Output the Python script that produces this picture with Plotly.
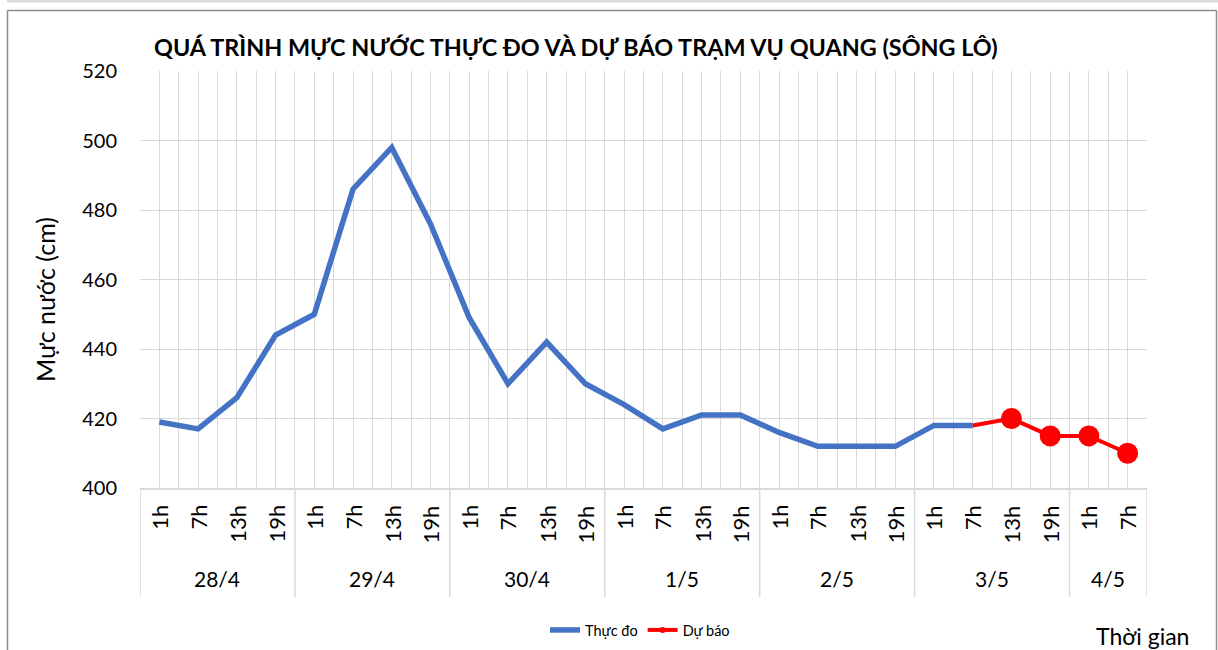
import plotly.graph_objects as go

# ---- data ----
days = ["28/4", "29/4", "30/4", "1/5", "2/5", "3/5", "4/5"]
hours_per_day = [4, 4, 4, 4, 4, 4, 2]
hours = ["1h", "7h", "13h", "19h"]
observed = [419, 417, 426, 444, 450, 486, 498, 476, 449, 430, 442, 430,
            424, 417, 421, 421, 416, 412, 412, 412, 418, 418]
forecast = [418, 420, 415, 415, 410]
forecast_start = 21  # category index of 3/5 7h

title_text = "QUÁ TRÌNH MỰC NƯỚC THỰC ĐO VÀ DỰ BÁO TRẠM VỤ QUANG (SÔNG LÔ)"
ytitle = "Mực nước (cm)"
xtitle = "Thời gian"
y_ticks = [400, 420, 440, 460, 480, 500, 520]

# ---- build categories ----
hour_labels = []
day_groups = []
idx = 0
for d, n in zip(days, hours_per_day):
    day_groups.append((d, idx, idx + n - 1))
    hour_labels.extend(hours[:n])
    idx += n
ncat = len(hour_labels)

TITLEF = "Liberation Sans Narrow, Arial Narrow, Lato, Liberation Sans, Arial, sans-serif"
BODY = "Lato, Liberation Sans, Arial, sans-serif"
GRID = "#d9d9d9"

W, H = 1218, 650
L, R, T, B = 140, 71, 71, 162
PW, PH = W - L - R, H - T - B

def px_x(px):
    return (px - L) / PW

def px_y(py):
    return (H - B - py) / PH

fig = go.Figure()

fig.add_trace(go.Scatter(
    x=list(range(len(observed))), y=observed, mode="lines", name="Thực đo",
    line=dict(color="#4472C4", width=5.5), showlegend=True))

fx = list(range(forecast_start, forecast_start + len(forecast)))
msizes = [0] + [21] * (len(forecast) - 1)
fig.add_trace(go.Scatter(
    x=fx, y=forecast, mode="lines+markers", name="Dự báo",
    line=dict(color="#FF0000", width=4),
    marker=dict(color="#FF0000", size=msizes, opacity=1, line=dict(width=0)),
    showlegend=False))
fig.add_trace(go.Scatter(
    x=[None], y=[None], mode="lines+markers", name="Dự báo",
    line=dict(color="#FF0000", width=4),
    marker=dict(color="#FF0000", size=6, opacity=1, line=dict(width=0)), showlegend=True))

annotations = []
for i, lab in enumerate(hour_labels):
    annotations.append(dict(
        x=i, xref="x", y=0, yref="paper", text=lab, textangle=-90,
        showarrow=False, xanchor="center", yanchor="top", yshift=-15,
        font=dict(family=BODY, size=22, color="#000")))
for d, a, b in day_groups:
    annotations.append(dict(
        x=(a + b) / 2, xref="x", y=px_y(578), yref="paper", text=d,
        showarrow=False, xanchor="center", yanchor="middle",
        font=dict(family=BODY, size=21, color="#000")))
annotations.append(dict(
    x=px_x(45), xref="paper", y=px_y(300), yref="paper", text=ytitle,
    textangle=-90, showarrow=False, xanchor="center", yanchor="middle",
    font=dict(family=BODY, size=25, color="#000")))
annotations.append(dict(
    x=px_x(1094), xref="paper", y=px_y(636), yref="paper", text=xtitle,
    showarrow=False, xanchor="left", yanchor="middle",
    font=dict(family=BODY, size=23, color="#000")))
annotations.append(dict(
    x=px_x(152), xref="paper", y=px_y(47), yref="paper", text="<b>" + title_text + "</b>",
    showarrow=False, xanchor="left", yanchor="middle",
    font=dict(family=TITLEF, size=23.4, color="#000")))

shapes = []
bounds = [a - 0.5 for _, a, _ in day_groups] + [day_groups[-1][2] + 0.5]
for bx in bounds:
    shapes.append(dict(type="line", xref="x", yref="paper", x0=bx, x1=bx,
                       y0=0, y1=px_y(597), line=dict(color=GRID, width=1.5)))
# outer frame
fl, fr, ft = px_x(7.5), px_x(1216.5), px_y(10.5)
shapes.append(dict(type="line", xref="paper", yref="paper", x0=fl, x1=fr, y0=ft, y1=ft,
                   line=dict(color="#8c8c8c", width=1.5)))
shapes.append(dict(type="line", xref="paper", yref="paper", x0=fl, x1=fl, y0=ft, y1=px_y(652),
                   line=dict(color="#8c8c8c", width=1.5)))
shapes.append(dict(type="line", xref="paper", yref="paper", x0=fr, x1=fr, y0=ft, y1=px_y(652),
                   line=dict(color="#8c8c8c", width=1.5)))
shapes.append(dict(type="rect", xref="paper", yref="paper", x0=px_x(7), x1=px_x(1218),
                   y0=px_y(2.5), y1=px_y(-1), line=dict(width=0), fillcolor=GRID))

fig.update_layout(
    width=W, height=H, autosize=False,
    margin=dict(l=L, r=R, t=T, b=B, autoexpand=False),
    paper_bgcolor="white", plot_bgcolor="white",
    showlegend=True,
    legend=dict(orientation="h", x=px_x(640), y=px_y(630), xanchor="center", yanchor="middle",
                font=dict(family=BODY, size=14.5, color="#000"), bgcolor="rgba(0,0,0,0)",
                itemwidth=30, tracegroupgap=0),
    annotations=annotations, shapes=shapes,
    xaxis=dict(range=[-0.5, ncat - 0.5], tick0=-0.5, dtick=0.5, showticklabels=False,
               showgrid=True, gridcolor=GRID, gridwidth=1.3, zeroline=False,
               showline=True, linecolor=GRID, linewidth=1.5, ticks="", fixedrange=True),
    yaxis=dict(range=[y_ticks[0], y_ticks[-1]], tickvals=y_ticks, showgrid=True,
               gridcolor=GRID, gridwidth=1.3, zeroline=False, showline=False, ticks="",
               ticklabelstandoff=22, tickfont=dict(family=BODY, size=20, color="#000"),
               fixedrange=True),
)

fig.write_html("out.html", config={"displayModeBar": False},
               post_script="document.body.style.margin='0';document.body.style.overflow='hidden';")
